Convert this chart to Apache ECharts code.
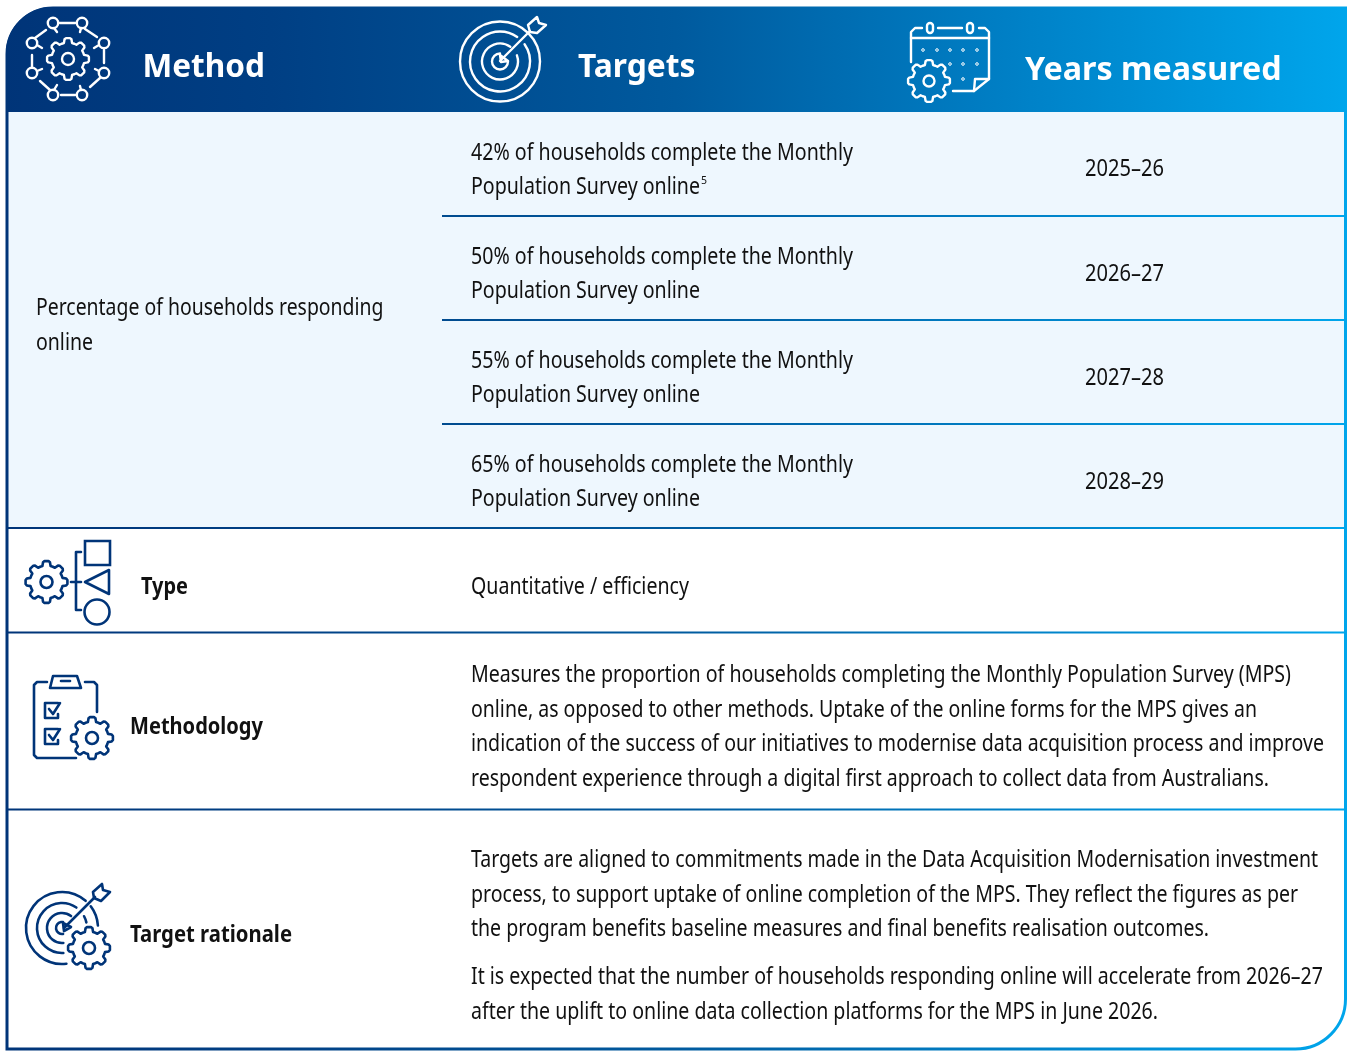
<!DOCTYPE html>
<html>
<head>
<meta charset="utf-8">
<style>html,body{margin:0;padding:0;background:#fff}#chart{width:1351px;height:1051px}</style>
<script src="https://cdn.jsdelivr.net/npm/echarts@6/dist/echarts.min.js"></script>
</head>
<body>
<div id="chart"></div>
<script>
var headers = ['Method', 'Targets', 'Years measured'];
var measureLabel = ['Percentage of households responding', 'online'];
var targetLines = [
    ['42% of households complete the Monthly', 'Population Survey online'],
    ['50% of households complete the Monthly', 'Population Survey online'],
    ['55% of households complete the Monthly', 'Population Survey online'],
    ['65% of households complete the Monthly', 'Population Survey online']
];
var years = ['2025–26', '2026–27', '2027–28', '2028–29'];
var rowLabels = ['Type', 'Methodology', 'Target rationale'];
var typeText = 'Quantitative / efficiency';
var methodologyLines = [
    'Measures the proportion of households completing the Monthly Population Survey (MPS)',
    'online, as opposed to other methods. Uptake of the online forms for the MPS gives an',
    'indication of the success of our initiatives to modernise data acquisition process and improve',
    'respondent experience through a digital first approach to collect data from Australians.'
];
var rationaleLines = [
    'Targets are aligned to commitments made in the Data Acquisition Modernisation investment',
    'process, to support uptake of online completion of the MPS. They reflect the figures as per',
    'the program benefits baseline measures and final benefits realisation outcomes.'
];
var rationaleLines2 = [
    'It is expected that the number of households responding online will accelerate from 2026–27',
    'after the uplift to online data collection platforms for the MPS in June 2026.'
];

var NAVY = '#003478';
var FONT = '"Noto Sans"';
var els = [];
var ctx = document.createElement('canvas').getContext('2d');

function gradient() {
    // global coordinates so every divider picks up the same colour at the same x
    return new echarts.graphic.LinearGradient(0, 0, 1351, 0, [
        { offset: 0, color: '#003478' },
        { offset: 0.2, color: '#003f84' },
        { offset: 0.5, color: '#005a9e' },
        { offset: 0.75, color: '#0080c6' },
        { offset: 1, color: '#00a6ec' }
    ], true);
}

// squeeze the text so it ends at x = right, the reference face is a condensed one
function text(str, x, y, size, weight, right, color) {
    var font = weight + ' ' + size + 'px ' + FONT;
    ctx.font = font;
    els.push({
        type: 'text', x: x, y: y, scaleX: (right - x) / ctx.measureText(str).width, z: 10,
        style: {
            text: str, fill: color || '#111', font: font,
            textAlign: 'left', textVerticalAlign: 'middle'
        }
    });
}
function line(x1, y1, x2, y2, color, w) {
    els.push({ type: 'line', z: 5, shape: { x1: x1, y1: y1, x2: x2, y2: y2 },
        style: { stroke: color, lineWidth: w, lineCap: 'round' } });
}
function circle(cx, cy, r, color, w, fill) {
    els.push({ type: 'circle', z: 5, shape: { cx: cx, cy: cy, r: r },
        style: { stroke: color, lineWidth: w, fill: fill || 'transparent' } });
}
function arc(cx, cy, r, a0, a1, color, w) {
    els.push({ type: 'arc', z: 5,
        shape: { cx: cx, cy: cy, r: r, startAngle: a0 * Math.PI / 180, endAngle: a1 * Math.PI / 180, clockwise: true },
        style: { stroke: color, lineWidth: w, fill: 'none', lineCap: 'round' } });
}
function poly(points, color, w, closed, fill) {
    els.push({ type: closed ? 'polygon' : 'polyline', z: 5, shape: { points: points },
        style: { stroke: color, lineWidth: w, fill: fill || 'none', lineJoin: 'round', lineCap: 'round' } });
}
function roundBox(x, y, w, h, r, color, lw, fill) {
    els.push({ type: 'rect', z: 5, shape: { x: x, y: y, width: w, height: h, r: r },
        style: { stroke: color, lineWidth: lw, fill: fill || 'none' } });
}
// gear outline with bumps, hole in the middle
function gear(cx, cy, ro, ri, hole, color, w, fill) {
    var n = 8, pts = [], step = Math.PI * 2 / n;
    for (var i = 0; i < n; i++) {
        var a = i * step - Math.PI / 2;
        [[-0.5, ri], [-0.32, ri], [-0.22, ro - 1], [-0.12, ro], [0.12, ro], [0.22, ro - 1], [0.32, ri]].forEach(function(p) {
            var t = a + p[0] * step;
            pts.push([cx + p[1] * Math.cos(t), cy + p[1] * Math.sin(t)]);
        });
    }
    poly(pts, color, w, true, fill);
    circle(cx, cy, hole, color, w);
}

// frame and fills
els.push({ type: 'rect', z: 1, shape: { x: 8, y: 112, width: 1337, height: 416 }, style: { fill: '#eef7fe' } });
els.push({ type: 'rect', z: 2, shape: { x: 6, y: 7, width: 1341, height: 105, r: [46, 0, 0, 0] }, style: { fill: gradient() } });
els.push({ type: 'rect', z: 3, shape: { x: 7, y: 8, width: 1338.5, height: 1041, r: [46, 0, 50, 0] },
    style: { fill: 'none', stroke: gradient(), lineWidth: 3 } });

// row dividers
[216, 320, 424].forEach(function(y) {
    els.push({ type: 'rect', z: 3, shape: { x: 442, y: y - 1, width: 903, height: 2 }, style: { fill: gradient() } });
});
[528, 632.5, 809.5].forEach(function(y) {
    els.push({ type: 'rect', z: 3, shape: { x: 8, y: y - 1, width: 1337, height: 2 }, style: { fill: gradient() } });
});

// header text
text(headers[0], 142.5, 68, 33, 'bold', 265, '#fff');
text(headers[1], 578, 68, 33, 'bold', 695.5, '#fff');
text(headers[2], 1025, 71, 33, 'bold', 1281.5, '#fff');

var BODY = 23.5;
text(measureLabel[0], 36, 308, BODY, 'normal', 383.5);
text(measureLabel[1], 36, 343, BODY, 'normal', 93);

var yearY = [169, 274, 378, 482];
targetLines.forEach(function(pair, i) {
    var base = 153 + i * 104;
    text(pair[0], 471, base, BODY, 'normal', 853);
    text(pair[1], 471, base + 34, BODY, 'normal', 700);
    text(years[i], 1085, yearY[i], BODY, 'normal', 1164);
});
text('5', 701, 181, 11, 'normal', 707);

text(rowLabels[0], 141, 587, BODY, 'bold', 188);
text(rowLabels[1], 130, 727, BODY, 'bold', 263);
text(rowLabels[2], 130, 935, BODY, 'bold', 292);

text(typeText, 471, 587, BODY, 'normal', 689);
var methodologyRight = [1291, 1257, 1324, 1269];
var rationaleRight = [1318, 1298, 1209];
var rationaleRight2 = [1323, 1158];
methodologyLines.forEach(function(s, i) { text(s, 471, Math.round(675 + i * 34.7), BODY, 'normal', methodologyRight[i]); });
rationaleLines.forEach(function(s, i) { text(s, 471, Math.round(860 + i * 34.7), BODY, 'normal', rationaleRight[i]); });
rationaleLines2.forEach(function(s, i) { text(s, 471, Math.round(977 + i * 34.7), BODY, 'normal', rationaleRight2[i]); });

// Method icon
var W = '#fff', WL = 2.4, NL = 2.6;
gear(68, 59, 21, 16.5, 6, W, WL);
[[53, 23], [82, 23], [104, 43], [104, 73], [82, 95], [53, 95], [32, 73], [32, 43]].forEach(function(p) {
    circle(p[0], p[1], 5.2, W, WL);
});
line(60, 23, 75, 23, W, WL); line(85, 29, 97, 37, W, WL); line(104, 50, 104, 63, W, WL);
line(90, 87, 100, 78, W, WL); line(61, 95, 75, 95, W, WL); line(40, 81, 50, 90, W, WL);
line(32, 55, 32, 67, W, WL); line(35, 38, 46, 30, W, WL);
line(54, 28, 57, 32, W, WL); line(81, 28, 80, 32, W, WL); line(99, 45, 94, 48, W, WL);
line(99, 71, 95, 69, W, WL); line(81, 90, 80, 86, W, WL); line(54, 90, 57, 85, W, WL);
line(37, 71, 42, 69, W, WL); line(37, 45, 42, 48, W, WL);

// Targets icon
circle(500, 61.5, 40, W, WL);
arc(500, 61.5, 30, -35, 305, W, WL);
arc(500, 61.5, 18, -20, 305, W, WL);
arc(500, 61.5, 8, 0, 270, W, WL);
line(500, 61, 530, 31, W, WL);
poly([[500, 55], [508, 61], [501, 62]], W, WL, true);
poly([[528, 25], [537, 17], [539, 23], [546, 25], [537, 33], [530, 32]], W, WL, true);

// Calendar icon
poly([[911, 62], [911, 32], [915, 28], [922, 28]], W, WL);
poly([[979, 28], [985, 28], [989, 32], [989, 79], [974, 91], [953, 91]], W, WL);
poly([[989, 79], [975, 79], [974, 91]], W, WL);
line(911, 38, 989, 38, W, WL);
line(938, 28, 962, 28, W, WL);
roundBox(927, 23, 6, 10, 3, W, WL);
roundBox(967, 23, 6, 10, 3, W, WL);
[[923, 50], [937, 50], [950, 50], [963, 50], [977, 50], [950, 64], [963, 64], [977, 64], [963, 79]].forEach(function(p) {
    circle(p[0], p[1], 1.3, W, 1);
});
gear(929, 81, 21, 16.5, 5.5, W, WL);

// Type icon
gear(46.5, 582, 21, 16.5, 6, NAVY, NL);
poly([[81, 552], [76, 552], [76, 610], [81, 610]], NAVY, NL);
line(71, 582, 81, 582, NAVY, NL);
els.push({ type: 'rect', z: 5, shape: { x: 85, y: 541, width: 25, height: 24 }, style: { stroke: NAVY, lineWidth: NL, fill: 'none' } });
poly([[85, 582], [109, 570], [109, 594]], NAVY, NL, true);
circle(97, 612, 12.5, NAVY, NL);

// Methodology icon
poly([[47, 682], [37, 682], [34, 685], [34, 755], [37, 758], [76, 758]], NAVY, NL);
poly([[85, 682], [94, 682], [97, 685], [97, 712]], NAVY, NL);
poly([[50, 688], [53, 676], [77, 676], [81, 688]], NAVY, NL, true);
line(61, 681, 70, 681, NAVY, NL);
poly([[58, 703], [45, 703], [45, 718], [58, 718], [58, 714]], NAVY, NL);
poly([[49, 709], [53, 714], [60, 703]], NAVY, NL);
poly([[58, 729], [45, 729], [45, 744], [58, 744], [58, 740]], NAVY, NL);
poly([[49, 735], [53, 740], [60, 729]], NAVY, NL);
gear(92, 738, 21, 16.5, 6, NAVY, NL, '#fff');

// Target rationale icon
arc(62, 928, 36, 83, 311, NAVY, NL);
arc(62, 928, 36, -37, -4, NAVY, NL);
arc(62, 928, 25, 87, 305, NAVY, NL);
arc(62, 928, 25, -28, -13, NAVY, NL);
arc(62, 928, 15, 85, 307, NAVY, NL);
arc(62, 928, 6, 80, 280, NAVY, NL);
line(64, 928, 95, 897, NAVY, NL);
poly([[63, 923], [71, 927], [64, 931]], NAVY, NL, true);
poly([[93, 892], [102, 884], [103, 890], [110, 892], [101, 901], [94, 898]], NAVY, NL, true);
gear(89, 948, 21, 16.5, 6, NAVY, NL, '#fff');

var chart = echarts.init(document.getElementById('chart'));
chart.setOption({
    animation: false,
    graphic: { elements: els }
});
</script>
</body>
</html>
